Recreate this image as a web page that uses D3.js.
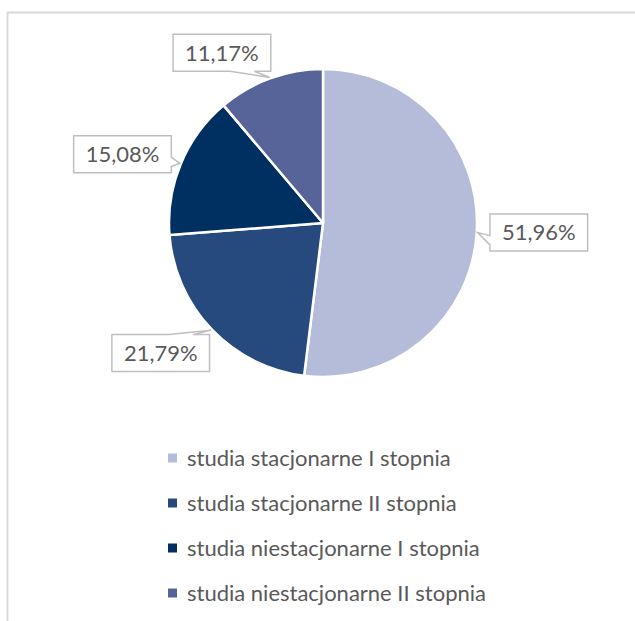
<!DOCTYPE html>
<html>
<head>
<meta charset="utf-8">
<script src="https://cdn.jsdelivr.net/npm/d3@7"></script>
<style>
  body { margin: 0; background: #fff; }
  text { font-family: Lato, "Open Sans", sans-serif; fill: #595959; }
</style>
</head>
<body>
<div id="chart"></div>
<script>
var categories = ["studia stacjonarne I stopnia", "studia stacjonarne II stopnia",
                  "studia niestacjonarne I stopnia", "studia niestacjonarne II stopnia"];
var values = [51.96, 21.79, 15.08, 11.17];
var labels = ["51,96%", "21,79%", "15,08%", "11,17%"];
var colors = ["#b4bcd9", "#264a7e", "#002f62", "#57649a"];

// where excel pushed the callouts (deg shift from mid angle, distance from centre)
var labelShift = [-1, 5, -3.7, -10.6];
var labelDist = [216, 208, 212, 198];

var width = 635, height = 621;
var cx = 323, cy = 223, r = 154;

var svg = d3.select("#chart").append("svg")
    .attr("width", width)
    .attr("height", height);

// chart area border
svg.append("rect")
    .attr("x", 7.5).attr("y", 12.5)
    .attr("width", width).attr("height", height)
    .attr("fill", "none")
    .attr("stroke", "#d9d9d9")
    .attr("stroke-width", 2);

var pie = d3.pie().sort(null).value(function(d) { return d; });
var arcs = pie(values);
var arc = d3.arc().innerRadius(0).outerRadius(r);

var g = svg.append("g")
    .attr("transform", "translate(" + cx + "," + cy + ")");

g.selectAll(".slice")
    .data(arcs)
  .enter().append("path")
    .attr("class", "slice")
    .attr("d", arc)
    .attr("fill", function(d, i) { return colors[i]; })
    .attr("stroke", "#fff")
    .attr("stroke-width", 2.5)
    .attr("stroke-linejoin", "round");

// data label callouts
function polar(a, d) { return [Math.sin(a) * d, -Math.cos(a) * d]; }

var boxH = 37, padX = 12;

arcs.forEach(function(d, i) {
  var mid = (d.startAngle + d.endAngle) / 2;
  var apex = polar(mid, r + 1);
  var c = polar(mid + labelShift[i] * Math.PI / 180, labelDist[i]);

  var lg = g.append("g");
  var t = lg.append("text")
      .attr("x", c[0]).attr("y", c[1])
      .attr("text-anchor", "middle")
      .attr("dy", "0.36em")
      .style("font-size", "22px")
      .text(labels[i]);
  var w = t.node().getComputedTextLength() + padX * 2;
  var x0 = c[0] - w / 2, x1 = c[0] + w / 2, y0 = c[1] - boxH / 2, y1 = c[1] + boxH / 2;
  var dx = (apex[0] - c[0]) / (w / 2), dy = (apex[1] - c[1]) / (boxH / 2);

  var p = d3.path();
  p.moveTo(x0, y0);
  if (Math.abs(dy) >= Math.abs(dx) && dy < 0) {
    var b = dx > 0 ? [7, 10] : [2, 5];
    p.lineTo(x0 + w * b[0] / 12, y0); p.lineTo(apex[0], apex[1]); p.lineTo(x0 + w * b[1] / 12, y0);
  }
  p.lineTo(x1, y0);
  if (Math.abs(dx) > Math.abs(dy) && dx > 0) {
    var b = dy > 0 ? [7, 10] : [2, 5];
    p.lineTo(x1, y0 + boxH * b[0] / 12); p.lineTo(apex[0], apex[1]); p.lineTo(x1, y0 + boxH * b[1] / 12);
  }
  p.lineTo(x1, y1);
  if (Math.abs(dy) >= Math.abs(dx) && dy > 0) {
    var b = dx > 0 ? [10, 7] : [5, 2];
    p.lineTo(x0 + w * b[0] / 12, y1); p.lineTo(apex[0], apex[1]); p.lineTo(x0 + w * b[1] / 12, y1);
  }
  p.lineTo(x0, y1);
  if (Math.abs(dx) > Math.abs(dy) && dx < 0) {
    var b = dy > 0 ? [10, 7] : [5, 2];
    p.lineTo(x0, y0 + boxH * b[0] / 12); p.lineTo(apex[0], apex[1]); p.lineTo(x0, y0 + boxH * b[1] / 12);
  }
  p.closePath();

  lg.insert("path", "text")
      .attr("d", p.toString())
      .attr("fill", "#fff")
      .attr("stroke", "#bfbfbf")
      .attr("stroke-width", 1.5);
});

// legend
var ly = d3.scalePoint()
    .domain(categories)
    .range([458, 593]);

var legend = svg.selectAll(".legend")
    .data(categories)
  .enter().append("g")
    .attr("class", "legend")
    .attr("transform", function(d) { return "translate(168," + ly(d) + ")"; });

legend.append("rect")
    .attr("x", 0).attr("y", -4.5)
    .attr("width", 9).attr("height", 9)
    .attr("fill", function(d, i) { return colors[i]; });

legend.append("text")
    .attr("x", 19)
    .attr("dy", "0.35em")
    .style("font-size", "22px")
    .text(function(d) { return d; });
</script>
</body>
</html>
